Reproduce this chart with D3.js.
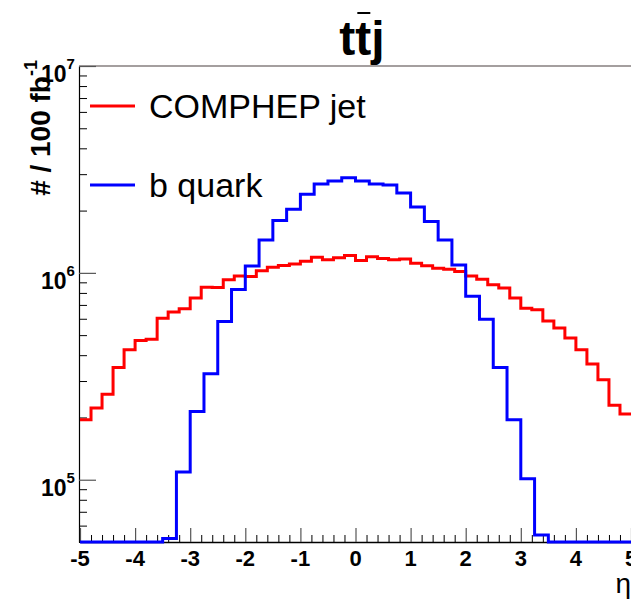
<!DOCTYPE html>
<html>
<head>
<meta charset="utf-8">
<script src="https://cdn.jsdelivr.net/npm/d3@7"></script>
<style>
  body { margin: 0; background: #fff; }
  text { font-family: "Liberation Sans", Arial, Helvetica, sans-serif; }
</style>
</head>
<body>
<div id="chart"></div>
<script>
// eta binning
const etaMin = -5, etaMax = 5;
const jetBinWidth = 0.2;   // COMPHEP jet histogram: 50 bins
const quarkBinWidth = 0.25; // b quark histogram: 40 bins

// events / 100 fb^-1
const jetCounts = [
  1.95e5, 2.22e5, 2.59e5, 3.49e5, 4.25e5, 4.71e5, 4.78e5, 6.04e5, 6.46e5, 6.70e5,
  7.55e5, 8.53e5, 8.50e5, 9.25e5, 9.67e5, 9.60e5, 1.023e6, 1.065e6, 1.084e6, 1.105e6,
  1.139e6, 1.191e6, 1.156e6, 1.182e6, 1.212e6, 1.147e6, 1.195e6, 1.172e6, 1.156e6, 1.168e6,
  1.114e6, 1.081e6, 1.054e6, 1.042e6, 1.015e6, 9.67e5, 9.32e5, 8.75e5, 8.44e5, 7.55e5,
  6.75e5, 6.63e5, 5.86e5, 5.41e5, 4.84e5, 4.25e5, 3.63e5, 3.04e5, 2.29e5, 2.08e5
];
const quarkCounts = [
  0, 0, 0, 0, 0, 0, 5.2e4, 1.09e5, 2.14e5, 3.25e5,
  5.82e5, 8.3e5, 1.08e6, 1.44e6, 1.79e6, 2.03e6, 2.40e6, 2.69e6, 2.78e6, 2.88e6,
  2.78e6, 2.69e6, 2.66e6, 2.43e6, 2.08e6, 1.77e6, 1.44e6, 1.09e6, 7.7e5, 5.97e5,
  3.49e5, 1.95e5, 1.01e5, 5.4e4, 0, 0, 0, 0, 0, 0
];

const xTickValues = [-5, -4, -3, -2, -1, 0, 1, 2, 3, 4, 5];
const yDecades = [5, 6, 7];
const legendNames = ["COMPHEP jet", "b quark"];
const seriesColors = ["#ff0000", "#0000ff"];

const W = 631, H = 600;
const margin = {top: 66, right: 0, bottom: 58, left: 79};

const svg = d3.select("#chart").append("svg")
  .attr("width", W).attr("height", H);

const x = d3.scaleLinear().domain([etaMin, etaMax]).range([80, 631]);
const y = d3.scaleLog().domain([5e4, 1e7]).range([H - margin.bottom, margin.top]);
const yMin = y.domain()[0];

// step outline of a histogram
function steps(counts, width) {
  const pts = [];
  counts.forEach((c, i) => {
    const lo = etaMin + i * width, hi = lo + width;
    pts.push([lo, c], [hi, c]);
  });
  return pts;
}
const line = d3.line()
  .x(d => x(d[0]))
  .y(d => y(Math.max(d[1], yMin)));

// frame top line
svg.append("line")
  .attr("x1", margin.left).attr("x2", W)
  .attr("y1", margin.top).attr("y2", margin.top)
  .attr("stroke", "#4a4040").attr("stroke-width", 1.2);

// y axis: minor then major ticks
const minorY = [];
[4, 5, 6].forEach(e => d3.range(1, 10).forEach(m => {
  const v = m * Math.pow(10, e);
  if (v >= 5e4 && v <= 1e7 && m !== 1) minorY.push(v);
}));
svg.append("g")
  .attr("transform", `translate(${margin.left},0)`)
  .call(d3.axisLeft(y).tickValues(minorY).tickSize(-8).tickFormat(""))
  .call(g => g.select(".domain").remove())
  .selectAll("line").attr("stroke", "#000");
svg.append("g")
  .attr("transform", `translate(${margin.left},0)`)
  .call(d3.axisLeft(y).tickValues(yDecades.map(e => Math.pow(10, e)))
    .tickSize(-17).tickSizeOuter(0).tickFormat(""))
  .call(g => g.select(".domain").attr("stroke", "#000").attr("stroke-width", 1.2))
  .selectAll(".tick line").attr("stroke", "#555").attr("stroke-width", 1.2);

// y tick labels 10^n
const yLab = svg.append("g");
yDecades.forEach(e => {
  const t = yLab.append("text")
    .attr("x", 41).attr("y", y(Math.pow(10, e)) + 16)
    .attr("font-size", 23).attr("font-weight", "bold");
  t.append("tspan").text("10");
  t.append("tspan").attr("font-size", 15).attr("dy", -13).text(e);
});

// x axis
const minorX = d3.range(0, 51).map(i => etaMin + i * 0.2).filter(v => Math.abs(v - Math.round(v)) > 1e-6);
svg.append("g")
  .attr("transform", `translate(0,${H - margin.bottom})`)
  .call(d3.axisBottom(x).tickValues(minorX).tickSize(-7).tickFormat(""))
  .call(g => g.select(".domain").remove())
  .selectAll("line").attr("stroke", "#000");
svg.append("g")
  .attr("transform", `translate(0,${H - margin.bottom})`)
  .call(d3.axisBottom(x).tickValues(xTickValues).tickSize(-14).tickSizeOuter(0).tickFormat(""))
  .call(g => g.select(".domain").attr("stroke", "#000").attr("stroke-width", 1.5))
  .selectAll(".tick line").attr("stroke", "#555").attr("stroke-width", 1.2);

svg.append("g").selectAll("text")
  .data(xTickValues).join("text")
  .attr("x", d => x(d)).attr("y", H - margin.bottom + 24)
  .attr("text-anchor", "middle")
  .attr("font-size", 22).attr("font-weight", "bold")
  .text(d => d);

// histograms
svg.append("path")
  .attr("d", line(steps(jetCounts, jetBinWidth)))
  .attr("fill", "none").attr("stroke", seriesColors[0]).attr("stroke-width", 3);
svg.append("path")
  .attr("d", line(steps(quarkCounts, quarkBinWidth)))
  .attr("fill", "none").attr("stroke", seriesColors[1]).attr("stroke-width", 3);

// legend
const legendY = [106, 185];
legendNames.forEach((name, i) => {
  svg.append("line")
    .attr("x1", 90).attr("x2", 135)
    .attr("y1", legendY[i]).attr("y2", legendY[i])
    .attr("stroke", seriesColors[i]).attr("stroke-width", 3);
  svg.append("text")
    .attr("x", 149).attr("y", legendY[i] + 12)
    .attr("font-size", 34)
    .text(name);
});

// axis titles
svg.append("text")
  .attr("transform", "translate(50,60) rotate(-90)")
  .attr("text-anchor", "end")
  .attr("font-size", 28).attr("font-weight", "bold")
  .call(t => {
    t.append("tspan").text("# / 100 fb");
    t.append("tspan").attr("font-size", 18).attr("dy", -13).text("-1");
  });

svg.append("text")
  .attr("x", 631).attr("y", 593)
  .attr("text-anchor", "end")
  .attr("font-size", 28)
  .text("\u03b7");

// title t tbar j
const title = svg.append("text")
  .attr("x", 362).attr("y", 55)
  .attr("text-anchor", "middle")
  .attr("font-size", 48).attr("font-weight", "bold")
  .text("ttj");
const tNode = title.node();
const bx = tNode.getStartPositionOfChar(1).x;
const bw = tNode.getSubStringLength(1, 1);
svg.append("line")
  .attr("x1", bx + 2).attr("x2", bx + bw - 1)
  .attr("y1", 13).attr("y2", 13)
  .attr("stroke", "#000").attr("stroke-width", 2);
</script>
</body>
</html>
